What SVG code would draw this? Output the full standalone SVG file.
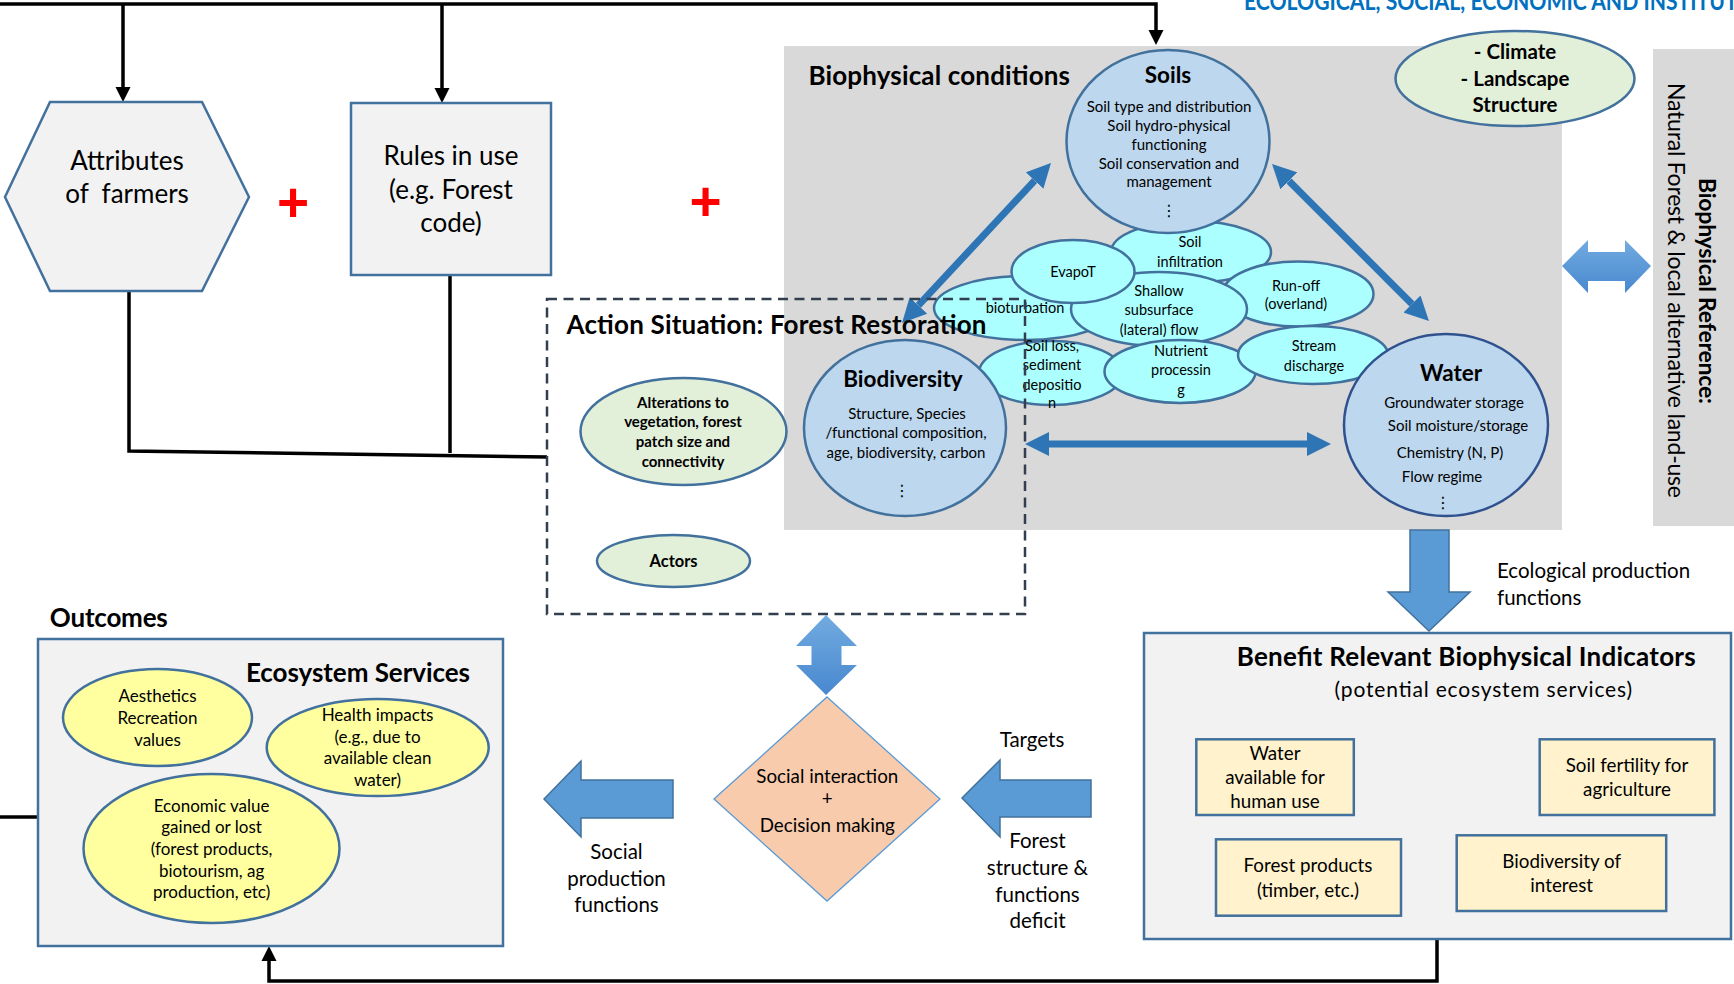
<svg xmlns="http://www.w3.org/2000/svg" width="1734" height="984" viewBox="0 0 1734 984">
<defs>
<style>
.t{font-family:Lato,"Liberation Sans",sans-serif;fill:#000}
.c{text-anchor:middle}
.b{font-weight:bold}
.dots{font-family:"DejaVu Sans",sans-serif;font-size:16px;text-anchor:middle;fill:#000}
.blk{fill:none;stroke:#000;stroke-width:3.5}
.barrow{fill:none;stroke:#2e75b6;stroke-width:7}
.circ{fill:#bdd7ee;stroke:#41719c;stroke-width:2.5}
.wcirc{fill:#bdd7ee;stroke:#2f528f;stroke-width:2.5}
.cyan{fill:#abffff;stroke:#41719c;stroke-width:2.5}
.green{fill:#e2efd9;stroke:#41719c;stroke-width:2.5}
.yel{fill:#ffffa0;stroke:#41719c;stroke-width:2.5}
.ind{fill:#fff2cc;stroke:#41719c;stroke-width:2.5}
.box{fill:#f2f2f2;stroke:#41719c;stroke-width:2.5}
.block{fill:#5b9bd5;stroke:#41719c;stroke-width:1.5}
.grad{fill:url(#gv);stroke:none}
.s145{font-size:14.5px}
.s15{font-size:15px}
.s17{font-size:17px}
.s19{font-size:18.8px}
.s205{font-size:20.5px}
.plus{font-family:"Liberation Sans",sans-serif;font-weight:bold;font-size:55px;fill:#ff0000;text-anchor:middle}
</style>
<linearGradient id="gv" x1="0" y1="0" x2="0" y2="1">
<stop offset="0" stop-color="#72abe0"/>
<stop offset="1" stop-color="#4888cf"/>
</linearGradient>
<marker id="ah" markerUnits="userSpaceOnUse" markerWidth="16" markerHeight="16" viewBox="0 0 16 16" refX="0" refY="8" orient="auto">
<path d="M0,0.5 L15,8 L0,15.5 z" fill="#000"/>
</marker>
<marker id="ba" markerUnits="userSpaceOnUse" markerWidth="24" markerHeight="24" viewBox="0 0 24 24" refX="0" refY="12" orient="auto-start-reverse">
<path d="M0,0 L24,12 L0,24 z" fill="#2e75b6"/>
</marker>
</defs>

<rect x="0" y="0" width="1734" height="984" fill="#ffffff"/>

<g id="title">
<text class="t b" x="1244" y="10" font-size="24" fill="#0070c0" style="fill:#0070c0" textLength="500" lengthAdjust="spacingAndGlyphs">ECOLOGICAL, SOCIAL, ECONOMIC AND INSTITUTI</text>
</g>

<g id="biophysical-conditions">
<rect x="784" y="46" width="778" height="484" fill="#d9d9d9"/>
<text class="t b" x="808.5" y="85" font-size="26" textLength="261.5">Biophysical conditions</text>
</g>

<g id="biophysical-reference">
<rect x="1653" y="49" width="81" height="477" fill="#d9d9d9"/>
<text class="t" transform="translate(1668,83) rotate(90)" font-size="23" textLength="415">Natural Forest &amp; local alternative land-use</text>
<text class="t b" transform="translate(1699,178) rotate(90)" font-size="23" textLength="226">Biophysical Reference:</text>
</g>

<g id="connectors">
<path class="blk" d="M0,4 H1156 V30" marker-end="url(#ah)"/>
<path class="blk" d="M123,4 V87" marker-end="url(#ah)"/>
<path class="blk" d="M442,4 V88" marker-end="url(#ah)"/>
<path class="blk" d="M129,291 V451 L547,457"/>
<path class="blk" d="M450,275 V453"/>
<path class="blk" d="M0,817 H38"/>
<path class="blk" d="M1437,939 V981 H269 V961" marker-end="url(#ah)"/>
<line class="barrow" x1="918.4" y1="305.4" x2="1034.6" y2="180.6" marker-start="url(#ba)" marker-end="url(#ba)"/>
<line class="barrow" x1="1289" y1="181" x2="1412" y2="304" marker-start="url(#ba)" marker-end="url(#ba)"/>
<line class="barrow" x1="1049" y1="444" x2="1307" y2="444" marker-start="url(#ba)" marker-end="url(#ba)"/>
<polygon class="grad" points="1562,266 1588,240 1588,252 1625,252 1625,240 1651,266 1625,293 1625,281 1588,281 1588,293"/>
<polygon class="grad" points="826,615 857,646 841.5,646 841.5,665 857,665 826,695 796,665 811.5,665 811.5,646 796,646"/>
<polygon class="block" points="544,799 581,761 581,780 673,780 673,818 581,818 581,837"/>
<polygon class="block" points="962,798 1000,760 1000,780 1091,780 1091,817 1000,817 1000,837"/>
<polygon class="block" points="1410,530 1449,530 1449,592 1470,592 1429,631 1388,592 1410,592"/>
</g>

<g id="soil-infiltration">
<ellipse class="cyan" cx="1191" cy="252" rx="80" ry="31"/>
<text class="t c s145" x="1190" y="247">Soil</text>
<text class="t c s145" x="1190" y="267">infiltration</text>
</g>
<g id="bioturbation">
<ellipse class="cyan" cx="1025" cy="308" rx="91" ry="32"/>
<text class="t c s145" x="1025" y="313">bioturbation</text>
</g>
<g id="run-off">
<ellipse class="cyan" cx="1298" cy="294" rx="75.5" ry="32.5"/>
<text class="t c s145" x="1296" y="290.5">Run-off</text>
<text class="t c s145" x="1296" y="309">(overland)</text>
</g>
<g id="shallow-flow">
<ellipse class="cyan" cx="1159" cy="309" rx="88" ry="37"/>
<text class="t c s145" x="1159" y="296">Shallow</text>
<text class="t c s145" x="1159" y="315">subsurface</text>
<text class="t c s145" x="1159" y="335">(lateral) flow</text>
</g>
<g id="evapot">
<ellipse class="cyan" cx="1073" cy="271.5" rx="61.5" ry="31.5"/>
<text class="t c s145" x="1073" y="277">EvapoT</text>
</g>
<g id="soil-loss">
<ellipse class="cyan" cx="1051" cy="373" rx="72" ry="32"/>
<text class="t c s145" x="1052" y="350.5">Soil loss,</text>
<text class="t c s145" x="1052" y="370">sediment</text>
<text class="t c s145" x="1052" y="390">depositio</text>
<text class="t c s145" x="1052" y="408">n</text>
</g>
<g id="nutrient">
<ellipse class="cyan" cx="1180" cy="371.5" rx="75.5" ry="31.5"/>
<text class="t c s145" x="1181" y="356">Nutrient</text>
<text class="t c s145" x="1181" y="375">processin</text>
<text class="t c s145" x="1181" y="395">g</text>
</g>
<g id="stream">
<ellipse class="cyan" cx="1313" cy="355" rx="75" ry="29"/>
<text class="t c s145" x="1314" y="350.5">Stream</text>
<text class="t c s145" x="1314" y="370.5">discharge</text>
</g>

<g id="soils">
<ellipse class="circ" cx="1168" cy="141.5" rx="101.5" ry="91.5"/>
<text class="t c b" x="1168" y="83" font-size="22.5">Soils</text>
<text class="t c s15" x="1169" y="112">Soil type and distribution</text>
<text class="t c s15" x="1169" y="131">Soil hydro-physical</text>
<text class="t c s15" x="1169" y="150">functioning</text>
<text class="t c s15" x="1169" y="169">Soil conservation and</text>
<text class="t c s15" x="1169" y="187">management</text>
<text class="dots" x="1169" y="216">⋮</text>
</g>

<g id="biodiversity">
<ellipse class="circ" cx="905" cy="428" rx="101" ry="88"/>
<text class="t c b" x="903" y="387" font-size="22.5">Biodiversity</text>
<text class="t c s15" x="907" y="419">Structure, Species</text>
<text class="t c s15" x="906" y="438">/functional composition,</text>
<text class="t c s15" x="906" y="457.5">age, biodiversity, carbon</text>
<text class="dots" x="902" y="496">⋮</text>
</g>

<g id="water">
<ellipse class="wcirc" cx="1446" cy="425" rx="102" ry="91"/>
<text class="t c b" x="1451" y="381" font-size="22.5">Water</text>
<text class="t c s15" x="1454" y="407.5">Groundwater storage</text>
<text class="t c s15" x="1458" y="431">Soil moisture/storage</text>
<text class="t c s15" x="1450" y="457.5">Chemistry (N, P)</text>
<text class="t c s15" x="1442" y="482">Flow regime</text>
<text class="dots" x="1443" y="508">⋮</text>
</g>

<g id="climate">
<ellipse class="green" cx="1515" cy="78.5" rx="119.5" ry="47.5"/>
<text class="t c b" x="1515" y="58.5" font-size="20.5">- Climate</text>
<text class="t c b" x="1515" y="85.5" font-size="20.5">- Landscape</text>
<text class="t c b" x="1515" y="112" font-size="20.5">Structure</text>
</g>

<g id="action-situation">
<rect x="547" y="299" width="478" height="315" fill="none" stroke="#333f4f" stroke-width="2.5" stroke-dasharray="10 6.5"/>
<text class="t b" x="566.5" y="334" font-size="26" textLength="420">Action Situation: Forest Restoration</text>
</g>

<g id="alterations">
<ellipse class="green" cx="683.5" cy="431.5" rx="103" ry="53.5"/>
<text class="t c b s15" x="683" y="408.3">Alterations to</text>
<text class="t c b s15" x="683" y="427.3">vegetation, forest</text>
<text class="t c b s15" x="683" y="447">patch size and</text>
<text class="t c b s15" x="683" y="466.5">connectivity</text>
</g>

<g id="actors">
<ellipse class="green" cx="673.5" cy="561" rx="76.5" ry="26"/>
<text class="t c b" x="673.5" y="567.3" font-size="16.5">Actors</text>
</g>

<g id="attributes">
<polygon class="box" points="5,197 50,102 202,102 249,197 202,291 50,291"/>
<text class="t c" x="127" y="170" font-size="26">Attributes</text>
<text class="t c" x="127" y="203" font-size="26" xml:space="preserve">of  farmers</text>
</g>

<g id="rules">
<rect class="box" x="351" y="103" width="200" height="172"/>
<text class="t c" x="451" y="165" font-size="26">Rules in use</text>
<text class="t c" x="451" y="198.7" font-size="26">(e.g. Forest</text>
<text class="t c" x="451" y="232" font-size="26">code)</text>
</g>

<g id="plus-signs">
<text class="plus" x="293" y="220.5">+</text>
<text class="plus" x="705.5" y="219.5">+</text>
</g>

<g id="outcomes">
<text class="t b" x="49.8" y="626.7" font-size="26" textLength="118">Outcomes</text>
<rect class="box" x="38" y="639" width="465" height="307"/>
<text class="t b" x="246" y="681.7" font-size="26" textLength="224">Ecosystem Services</text>
</g>

<g id="aesthetics">
<ellipse class="yel" cx="157.5" cy="717.5" rx="94.5" ry="48.5"/>
<text class="t c s17" x="157.5" y="701.7">Aesthetics</text>
<text class="t c s17" x="157.5" y="724">Recreation</text>
<text class="t c s17" x="157.5" y="745.7">values</text>
</g>

<g id="health">
<ellipse class="yel" cx="377.7" cy="747.5" rx="111" ry="48.5"/>
<text class="t c s17" x="377.5" y="720.7">Health impacts</text>
<text class="t c s17" x="377.5" y="742.7">(e.g., due to</text>
<text class="t c s17" x="377.5" y="764.3">available clean</text>
<text class="t c s17" x="377.5" y="786">water)</text>
</g>

<g id="economic">
<ellipse class="yel" cx="211.5" cy="848.5" rx="128" ry="74.5"/>
<text class="t c s17" x="211.6" y="811.7">Economic value</text>
<text class="t c s17" x="211.6" y="833.3">gained or lost</text>
<text class="t c s17" x="211.6" y="855">(forest products,</text>
<text class="t c s17" x="211.6" y="877.3">biotourism, ag</text>
<text class="t c s17" x="211.6" y="898.3">production, etc)</text>
</g>

<g id="social-interaction">
<polygon points="827,697 940,799 827,901 714,799" fill="#f8cbad" stroke="#5b9bd5" stroke-width="1.3"/>
<text class="t c s19" x="827.3" y="782.7">Social interaction</text>
<text class="t c s19" x="827.3" y="805">+</text>
<text class="t c s19" x="827.3" y="831.7">Decision making</text>
</g>

<g id="label-social-production">
<text class="t c s205" x="616.5" y="859.3">Social</text>
<text class="t c s205" x="616.5" y="885.7">production</text>
<text class="t c s205" x="616.5" y="911.7">functions</text>
</g>

<g id="label-targets">
<text class="t c s205" x="1032" y="746.7">Targets</text>
</g>

<g id="label-forest-deficit">
<text class="t c s205" x="1037.5" y="848.3">Forest</text>
<text class="t c s205" x="1037.5" y="875">structure &amp;</text>
<text class="t c s205" x="1037.5" y="901.7">functions</text>
<text class="t c s205" x="1037.5" y="928.3">deficit</text>
</g>

<g id="label-ecological-production">
<text class="t s205" x="1497" y="578.3">Ecological production</text>
<text class="t s205" x="1497" y="605">functions</text>
</g>

<g id="benefit-indicators">
<rect class="box" x="1144" y="633" width="587" height="306"/>
<text class="t b" x="1236.7" y="666" font-size="26" textLength="459">Benefit Relevant Biophysical Indicators</text>
<text class="t" x="1334.6" y="696.7" font-size="21" textLength="297.5">(potential ecosystem services)</text>
</g>

<g id="water-available">
<rect class="ind" x="1196.3" y="739.3" width="157.5" height="75.7"/>
<text class="t c s19" x="1275" y="760">Water</text>
<text class="t c s19" x="1275" y="784">available for</text>
<text class="t c s19" x="1275" y="808.3">human use</text>
</g>

<g id="soil-fertility">
<rect class="ind" x="1539.7" y="739.3" width="174.7" height="75.7"/>
<text class="t c s19" x="1627" y="771.7">Soil fertility for</text>
<text class="t c s19" x="1627" y="796">agriculture</text>
</g>

<g id="forest-products">
<rect class="ind" x="1216" y="839.3" width="185" height="76.4"/>
<text class="t c s19" x="1308" y="871.7">Forest products</text>
<text class="t c s19" x="1308" y="896.7">(timber, etc.)</text>
</g>

<g id="biodiversity-interest">
<rect class="ind" x="1456.7" y="835.3" width="209.5" height="75.7"/>
<text class="t c s19" x="1561.7" y="867.7">Biodiversity of</text>
<text class="t c s19" x="1561.7" y="891.7">interest</text>
</g>
</svg>
